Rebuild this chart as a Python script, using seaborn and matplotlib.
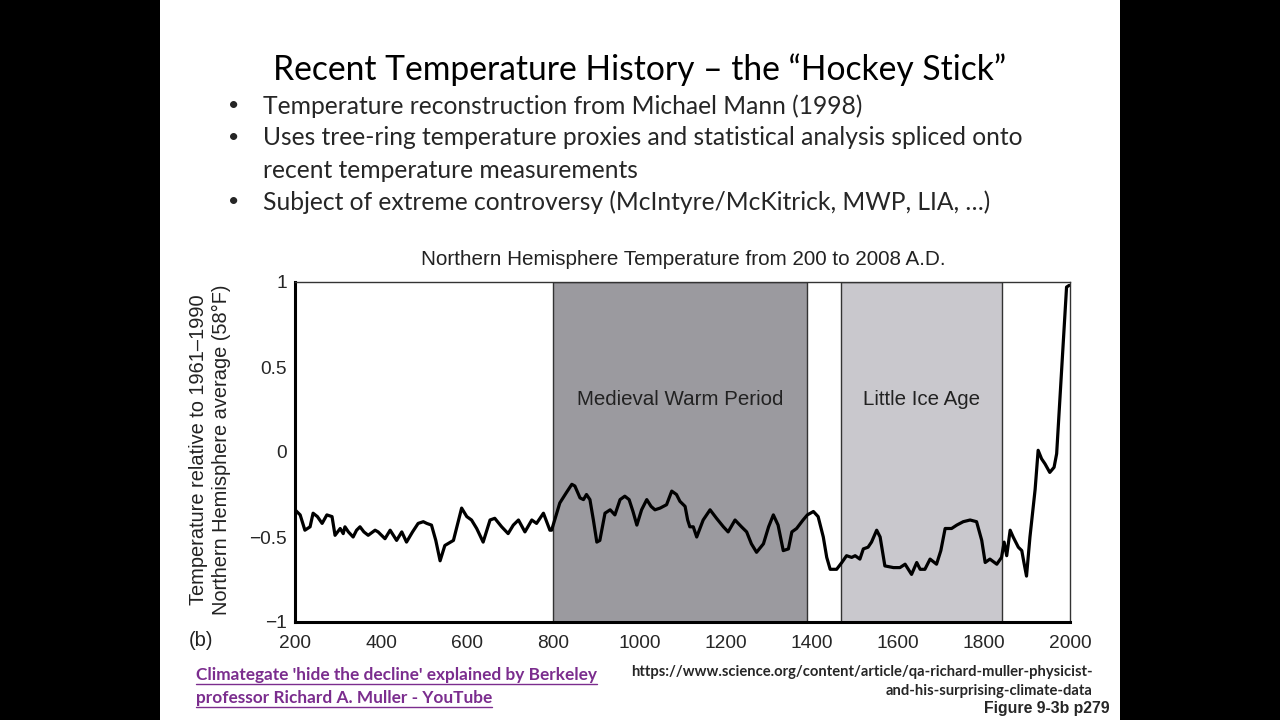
import matplotlib
matplotlib.use("Agg")
import matplotlib.pyplot as plt
from matplotlib.lines import Line2D
import pandas as pd
import seaborn as sns

# reconstruction (year, temperature anomaly)
years = [200, 212, 223, 235, 242, 252, 263, 274, 286, 293, 305, 312, 316, 324, 335,
         343, 351, 360, 370, 386, 393, 409, 421, 436, 448, 459, 473, 486, 498, 506,
         517, 527, 537, 548, 568, 578, 587, 599, 610, 622, 637, 653, 664, 680, 695,
         707, 719, 734, 750, 761, 777, 792, 796, 808, 815, 830, 843, 850, 862, 870,
         877, 885, 893, 901, 908, 920, 932, 943, 955, 966, 976, 985, 994, 1005, 1017,
         1027, 1036, 1048, 1063, 1075, 1086, 1094, 1106, 1112, 1117, 1125, 1133, 1148,
         1164, 1179, 1195, 1206, 1222, 1237, 1249, 1260, 1272, 1288, 1300, 1311, 1322,
         1334, 1346, 1354, 1365, 1380, 1390, 1404, 1415, 1427, 1435, 1443, 1458, 1470,
         1481, 1493, 1501, 1512, 1520, 1531, 1539, 1551, 1559, 1570, 1590, 1605, 1617,
         1632, 1644, 1652, 1663, 1675, 1690, 1700, 1710, 1725, 1737, 1752, 1768, 1783,
         1795, 1803, 1814, 1830, 1841, 1847, 1853, 1861, 1868, 1880, 1888, 1893, 1899,
         1907, 1919, 1926, 1934, 1942, 1953, 1963, 1969, 1992, 1998]
temps = [-0.34, -0.37, -0.46, -0.44, -0.36, -0.38, -0.42, -0.37, -0.38, -0.49, -0.45,
         -0.48, -0.44, -0.47, -0.50, -0.46, -0.44, -0.47, -0.49, -0.46, -0.47, -0.51,
         -0.46, -0.52, -0.47, -0.53, -0.47, -0.42, -0.41, -0.42, -0.43, -0.52, -0.64,
         -0.55, -0.52, -0.42, -0.33, -0.38, -0.40, -0.45, -0.53, -0.40, -0.39, -0.44,
         -0.48, -0.43, -0.40, -0.47, -0.40, -0.42, -0.36, -0.46, -0.46, -0.36, -0.30,
         -0.24, -0.19, -0.20, -0.27, -0.28, -0.25, -0.28, -0.40, -0.53, -0.52, -0.36,
         -0.34, -0.37, -0.28, -0.26, -0.28, -0.35, -0.43, -0.34, -0.28, -0.32, -0.34,
         -0.33, -0.31, -0.23, -0.25, -0.29, -0.32, -0.40, -0.44, -0.44, -0.50, -0.40,
         -0.34, -0.39, -0.44, -0.47, -0.40, -0.44, -0.47, -0.54, -0.59, -0.54, -0.44,
         -0.37, -0.43, -0.58, -0.57, -0.47, -0.45, -0.40, -0.37, -0.35, -0.38, -0.50,
         -0.62, -0.69, -0.69, -0.65, -0.61, -0.62, -0.61, -0.63, -0.57, -0.56, -0.53,
         -0.46, -0.50, -0.67, -0.68, -0.68, -0.66, -0.72, -0.65, -0.69, -0.69, -0.63,
         -0.66, -0.58, -0.45, -0.45, -0.43, -0.41, -0.40, -0.41, -0.52, -0.65, -0.63,
         -0.66, -0.62, -0.53, -0.61, -0.46, -0.50, -0.56, -0.58, -0.65, -0.73, -0.50,
         -0.22, 0.01, -0.04, -0.07, -0.12, -0.09, -0.01, 0.97, 0.98]

periods = ["Medieval Warm Period", "Little Ice Age"]
period_start = [800, 1468]
period_end = [1388, 1841]
period_colors = ["#9b9a9f", "#c9c8cd"]

title = "Recent Temperature History \u2013 the \u201cHockey Stick\u201d"
bullets = ["Temperature reconstruction from Michael Mann (1998)",
           "Uses tree-ring temperature proxies and statistical analysis spliced onto\nrecent temperature measurements",
           "Subject of extreme controversy (McIntyre/McKitrick, MWP, LIA, \u2026)"]

sns.set_style("white")
plt.rcParams['font.family'] = ['Liberation Sans', 'DejaVu Sans']

df = pd.DataFrame({'year': years, 'temp': temps})

W, H = 1280, 720
fig = plt.figure(figsize=(12.8, 7.2), dpi=100, facecolor="black")

# white slide area
slide = fig.add_axes([160 / W, 0, 960 / W, 1])
slide.set_facecolor("white")
slide.set_xticks([])
slide.set_yticks([])
for s in slide.spines.values():
    s.set_visible(False)

slide_font = ['Lato', 'DejaVu Sans']
fig.text(640 / W, 1 - 70 / H, title, ha='center', va='center', fontsize=24.2,
         family=slide_font, color='black')
line_y = [106, 138, 202]
for y, b in zip(line_y, bullets):
    fig.text(228 / W, 1 - y / H, "\u2022", ha='left', va='center', fontsize=14,
             family=slide_font)
    fig.text(263 / W, 1 - (y - 12) / H, b, ha='left', va='top', fontsize=17.7,
             family=slide_font, linespacing=1.55)

# chart
ax = fig.add_axes([295 / W, 1 - 622 / H, 775 / W, 340 / H])
for st, en, c in zip(period_start, period_end, period_colors):
    ax.axvspan(st, en, facecolor=c, edgecolor="#333333", linewidth=1.0)
sns.lineplot(data=df, x='year', y='temp', ax=ax, color='black', linewidth=2.3)

ax.set_xlim(200, 2000)
ax.set_ylim(-1, 1)
ax.set_xticks(range(200, 2001, 200))
ax.set_yticks([-1, -0.5, 0, 0.5, 1])
ax.set_yticklabels(["\u22121", "\u22120.5", "0", "0.5", "1"])
ax.tick_params(axis='both', direction='in', length=11, width=1, color='#222222',
               labelsize=13.8, pad=6)
ax.tick_params(axis='x', pad=9)
ax.set_xlabel("")
ax.set_ylabel("")
for side in ['left', 'bottom']:
    ax.spines[side].set_linewidth(2.2)
    ax.spines[side].set_color('black')
for side in ['top', 'right']:
    ax.spines[side].set_linewidth(1.0)
    ax.spines[side].set_color('#333333')

for p, st, en in zip(periods, period_start, period_end):
    ax.text((st + en) / 2, 0.306, p, ha='center', va='center', fontsize=14.8,
            color='#222222')

fig.text(683 / W, 1 - 259 / H, "Northern Hemisphere Temperature from 200 to 2008 A.D.",
         ha='center', va='center', fontsize=14.9, color='#222222')
fig.text(210 / W, 1 - 450 / H,
         "Temperature relative to 1961\u20131990\nNorthern Hemisphere average (58\u00b0F)",
         ha='center', va='center', rotation=90, fontsize=14.4, color='#222222',
         linespacing=1.3, multialignment='center')
fig.text(189 / W, 1 - 640 / H, "(b)", ha='left', va='center', fontsize=14.5,
         color='#222222')

# footer
link_color = '#7b2d8e'
links = []
for y, t in zip([675, 698], ["Climategate 'hide the decline' explained by Berkeley",
                             "professor Richard A. Muller - YouTube"]):
    links.append(fig.text(196 / W, 1 - y / H, t, ha='left', va='center', fontsize=12.4,
                          fontweight='bold', color=link_color, family=slide_font))
fig.text(1093 / W, 1 - 672 / H,
         "https://www.science.org/content/article/qa-richard-muller-physicist-",
         ha='right', va='center', fontsize=10.6, fontweight='bold', family=slide_font)
fig.text(1093 / W, 1 - 691 / H, "and-his-surprising-climate-data",
         ha='right', va='center', fontsize=10.6, fontweight='bold', family=slide_font)
fig.text(1110 / W, 1 - 708 / H, "Figure 9-3b p279", ha='right', va='center',
         fontsize=11.4, fontweight='bold')

fig.canvas.draw()
renderer = fig.canvas.get_renderer()
for t in links:
    bb = t.get_window_extent(renderer)
    yl = (bb.y0 - 1) / H
    fig.add_artist(Line2D([bb.x0 / W, bb.x1 / W], [yl, yl], color=link_color,
                          linewidth=1.0, transform=fig.transFigure))

fig.savefig("out.png", dpi=100, facecolor=fig.get_facecolor())
